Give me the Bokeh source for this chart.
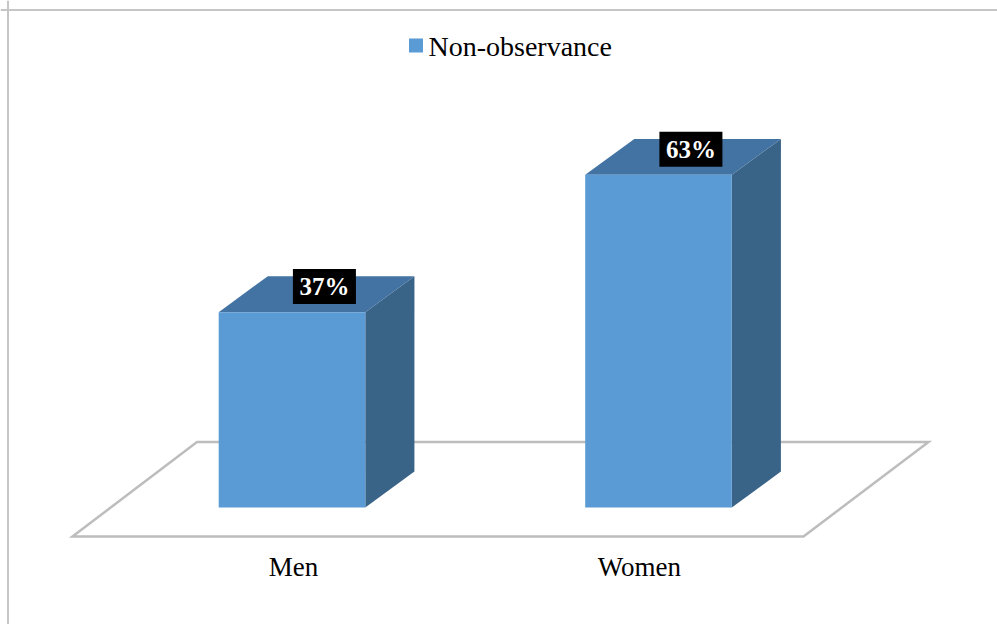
from bokeh.plotting import figure
from bokeh.models import Range1d, Span, ColumnDataSource
from bokeh.core.properties import value
from bokeh.embed import file_html
from bokeh.resources import INLINE

# ---- data ----
categories = ["Men", "Women"]
series_name = "Non-observance"
non_observance = [37, 63]          # percent
value_labels = ["37%", "63%"]

# ---- canvas / scale setup ----
W, H = 997, 624
X0_PX, X_UNIT = 291.5, 366.5      # pixel of first category centre, pixels per category
Y0_PX, Y_UNIT = 507.0, 5.28       # pixel of the 0 % baseline, pixels per percent

def px_x(px):
    return (px - X0_PX) / X_UNIT

def px_y(py):
    return (Y0_PX - py) / Y_UNIT

p = figure(width=W, height=H,
           x_range=Range1d(px_x(0), px_x(W)),
           y_range=Range1d(px_y(H), px_y(0)),
           toolbar_location=None, output_backend="svg",
           min_border=0, background_fill_color="white",
           border_fill_color="white")
p.axis.visible = False
p.grid.visible = False
p.outline_line_color = None

FONT = value("Liberation Serif")

# chart area frame (top and left edges)
p.add_layout(Span(location=px_x(7.5), dimension="height",
                  line_color="#C6C6C6", line_width=2))
p.add_layout(Span(location=px_y(9.5), dimension="width",
                  line_color="#C6C6C6", line_width=2))

# ---- 3D geometry ----
HALF_W = 0.2            # half bar width (category units)
DX, DY = 0.134, 6.8     # depth offset of the 3D projection

# floor
floor_x = [px_x(72), px_x(803), px_x(928), px_x(196.5)]
floor_y = [px_y(536), px_y(536), px_y(441.5), px_y(441.5)]
p.patch(floor_x, floor_y, fill_color="white", line_color="#BDBDBD",
        line_width=2.5, line_join="miter")

idx = list(range(len(categories)))

# side and top faces
side_xs, side_ys, top_xs, top_ys = [], [], [], []
for i, v in zip(idx, non_observance):
    r = i + HALF_W
    l = i - HALF_W
    side_xs.append([r, r + DX, r + DX, r])
    side_ys.append([0, DY, v + DY, v])
    top_xs.append([l, r, r + DX, l + DX])
    top_ys.append([v, v, v + DY, v + DY])

p.patches(side_xs, side_ys, fill_color="#396387", line_color=None)
p.patches(top_xs, top_ys, fill_color="#4373A2", line_color=None)

# front faces
src = ColumnDataSource(dict(
    x=idx, top=non_observance,
    left=[i - HALF_W for i in idx], right=[i + HALF_W for i in idx],
    lab=value_labels,
    lx=[i + DX * 0.66 for i in idx],
    ly=[v + 4.85 for v in non_observance],
))
p.quad(left="left", right="right", bottom=0, top="top", source=src,
       fill_color="#5B9BD5", line_color=None)

# value labels: white bold text on black boxes
p.rect(x="lx", y="ly", width=63, height=35, width_units="screen",
       height_units="screen", source=src, fill_color="black", line_color=None)
p.text(x="lx", y="ly", text="lab", source=src, text_color="white",
       text_font=FONT, text_font_style="bold", text_font_size="25px",
       text_align="center", text_baseline="middle")

# category labels below the floor
cat_dx = [0.004, -0.052]
p.text(x=[i + d for i, d in zip(idx, cat_dx)], y=[px_y(566)] * len(idx),
       text=categories, text_color="black", text_font=FONT,
       text_font_size="27px", text_align="center", text_baseline="middle")

# legend
p.rect(x=[px_x(415.5)], y=[px_y(45)], width=14, height=14,
       width_units="screen", height_units="screen",
       fill_color="#5B9BD5", line_color=None)
p.text(x=[px_x(428)], y=[px_y(46)], text=[series_name], text_color="black",
       text_font=FONT, text_font_size="28px", text_align="left",
       text_baseline="middle")

open("out.html", "w").write(file_html(p, INLINE))
